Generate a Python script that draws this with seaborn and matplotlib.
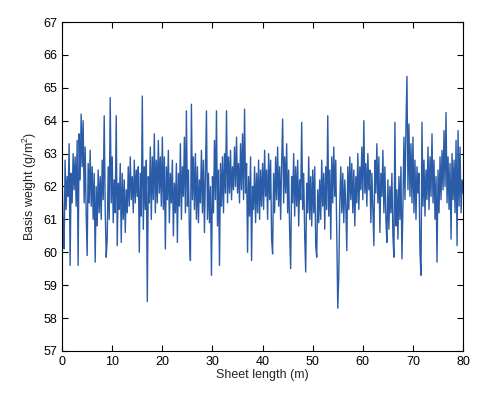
import numpy as np
import pandas as pd
import matplotlib
matplotlib.use("Agg")
import matplotlib.pyplot as plt
import seaborn as sns

# basis weight readings (g/m^2), one every 0.2 m
w_00_10 = [62.4, 60.8, 60.1, 62.8, 61.3, 62.3, 61.7, 63.3, 59.6, 62.4,
           61.5, 63.0, 61.9, 62.9, 61.4, 63.4, 59.6, 63.6, 62.2, 64.2,
           62.6, 64.0, 61.5, 63.2, 61.2, 59.9, 62.7, 61.5, 63.1, 61.4,
           62.6, 61.0, 62.4, 59.7, 62.0, 60.8, 62.5, 61.2, 62.3, 61.0,
           62.8, 61.6, 64.15, 61.3, 59.85, 60.4, 62.6, 61.0, 64.7, 61.5]
w_10_20 = [62.9, 60.9, 62.2, 61.2, 64.15, 60.2, 62.1, 61.3, 62.7, 60.3,
           62.4, 61.0, 62.2, 60.6, 61.9, 61.2, 62.6, 61.4, 62.9, 61.6,
           62.3, 61.2, 62.8, 61.5, 62.5, 61.7, 62.6, 60.0, 62.4, 61.1,
           64.75, 60.7, 62.6, 61.3, 62.8, 58.5, 62.3, 61.5, 63.2, 61.0,
           62.9, 61.6, 63.6, 61.2, 62.8, 61.5, 63.4, 61.8, 62.9, 61.4]
w_20_30 = [63.5, 61.3, 62.9, 60.1, 62.6, 61.6, 63.1, 60.9, 62.4, 61.5,
           62.8, 60.5, 62.1, 61.2, 62.7, 60.3, 62.4, 61.4, 63.3, 61.0,
           62.6, 61.7, 63.5, 61.2, 64.3, 61.4, 62.5, 60.5, 59.75, 64.5,
           61.6, 62.9, 61.3, 63.0, 61.0, 62.6, 60.9, 62.2, 61.5, 63.1,
           61.2, 62.8, 60.6, 62.4, 64.3, 61.0, 62.4, 60.9, 62.0, 59.3]
w_30_40 = [62.3, 61.2, 63.4, 61.6, 64.3, 60.8, 62.5, 59.6, 62.7, 61.4,
           62.9, 61.2, 63.0, 61.8, 64.3, 61.5, 62.9, 61.8, 63.1, 61.6,
           62.6, 61.9, 63.2, 62.0, 63.5, 61.8, 62.7, 61.5, 63.3, 61.9,
           63.6, 61.6, 64.35, 61.8, 62.7, 60.0, 62.3, 61.1, 62.9, 59.75,
           62.0, 61.3, 62.6, 60.9, 62.4, 61.2, 62.8, 61.0, 62.5, 61.4]
w_40_50 = [62.7, 61.3, 63.1, 61.7, 62.5, 61.0, 63.0, 61.6, 62.8, 60.4,
           59.95, 62.4, 61.2, 62.9, 61.6, 63.2, 61.4, 62.6, 61.0, 62.7,
           64.05, 61.5, 62.9, 61.8, 63.3, 61.2, 62.5, 60.6, 59.5, 62.3,
           61.5, 63.0, 61.1, 62.6, 61.4, 62.8, 60.8, 62.2, 61.6, 63.95,
           61.3, 62.4, 60.5, 59.4, 62.1, 61.2, 62.9, 61.0, 62.3, 60.8]
w_50_60 = [62.5, 61.2, 62.6, 60.2, 59.85, 61.9, 60.9, 62.2, 61.0, 62.8,
           61.4, 62.4, 60.7, 62.6, 61.3, 64.15, 61.1, 62.5, 60.4, 62.9,
           61.5, 63.2, 61.7, 62.8, 60.6, 58.3, 59.3, 61.5, 62.6, 61.2,
           62.4, 60.9, 62.2, 61.4, 60.05, 62.6, 61.3, 62.9, 61.6, 62.7,
           61.2, 62.5, 60.8, 62.3, 61.5, 63.0, 61.3, 62.6, 61.9, 63.2]
w_60_70 = [61.6, 64.0, 61.8, 62.7, 61.4, 63.0, 61.9, 62.5, 60.9, 62.4,
           61.3, 60.2, 62.8, 61.8, 63.3, 61.5, 62.9, 60.6, 62.4, 61.7,
           63.1, 61.2, 62.6, 61.0, 60.3, 62.2, 60.7, 62.0, 61.2, 62.4,
           60.5, 59.85, 63.95, 60.8, 61.9, 60.4, 62.3, 61.0, 62.6, 59.8,
           61.4, 63.5, 61.6, 63.8, 65.35, 61.9, 63.9, 61.7, 63.3, 61.5]
w_70_80 = [63.5, 61.2, 62.8, 61.0, 62.6, 61.8, 62.4, 60.0, 59.3, 63.95,
           61.4, 62.8, 61.1, 62.5, 61.6, 63.2, 61.3, 62.9, 61.7, 63.6,
           61.5, 62.8, 61.0, 62.3, 59.7, 62.5, 61.2, 62.9, 61.6, 63.1,
           61.9, 63.7, 62.0, 64.25, 61.5, 62.9, 61.3, 62.7, 60.4, 63.0,
           61.6, 62.8, 61.2, 63.4, 60.2, 63.7, 61.4, 63.2, 61.2, 62.2,
           61.8]

weight = w_00_10 + w_10_20 + w_20_30 + w_30_40 + w_40_50 + w_50_60 + w_60_70 + w_70_80
length = np.linspace(0, 80, len(weight))
df = pd.DataFrame({"length": length, "weight": weight})

x_ticks = [0, 10, 20, 30, 40, 50, 60, 70, 80]
y_ticks = [57, 58, 59, 60, 61, 62, 63, 64, 65, 66, 67]

sns.set_style("ticks")
plt.rcParams["font.family"] = ["Liberation Sans", "DejaVu Sans"]
plt.rcParams["mathtext.default"] = "regular"

fig = plt.figure(figsize=(4.89, 3.93), dpi=100)
ax = fig.add_axes([0.127, 0.107, 0.82, 0.837])
sns.lineplot(data=df, x="length", y="weight", estimator=None,
             color="#2b5ca8", linewidth=1.0, ax=ax)

ax.set_xlim(0, 80)
ax.set_ylim(57, 67)
ax.set_xticks(x_ticks)
ax.set_yticks(y_ticks)
ax.tick_params(direction="in", top=True, right=True, length=4, width=0.8,
               labelsize=9, colors="black")
for s in ax.spines.values():
    s.set_visible(True)
    s.set_color("black")
    s.set_linewidth(0.8)
ax.set_xlabel("Sheet length (m)", fontsize=9, labelpad=1)
ax.set_ylabel("Basis weight (g/m$^2$)", fontsize=9, labelpad=3)

fig.savefig("out.png", dpi=100, facecolor="white")
